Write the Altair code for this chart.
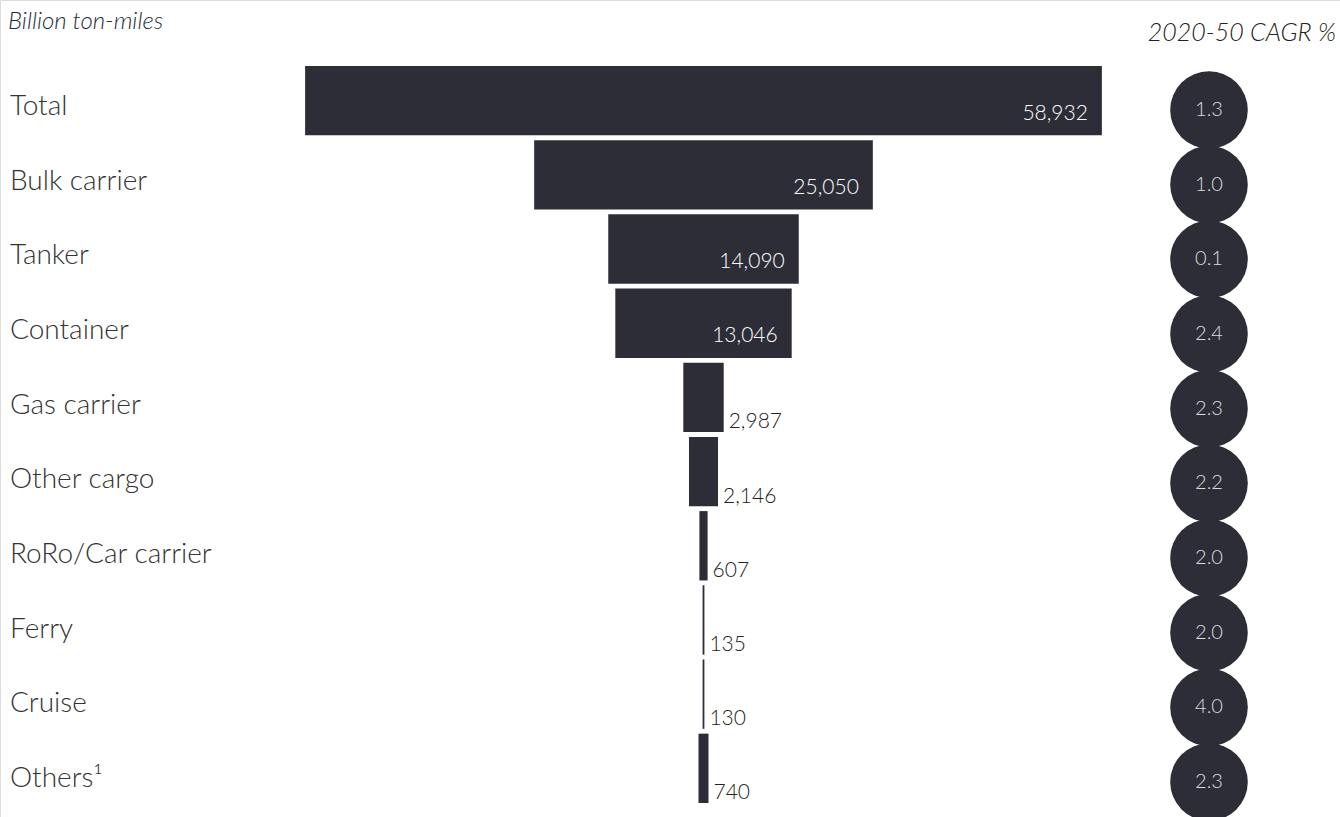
import altair as alt
import pandas as pd

categories = ["Total", "Bulk carrier", "Tanker", "Container", "Gas carrier",
              "Other cargo", "RoRo/Car carrier", "Ferry", "Cruise", "Others¹"]
values = [58932, 25050, 14090, 13046, 2987, 2146, 607, 135, 130, 740]
cagr = ["1.3", "1.0", "0.1", "2.4", "2.3", "2.2", "2.0", "2.0", "4.0", "2.3"]

df = pd.DataFrame({"cat": categories, "value": values, "cagr": cagr,
                   "idx": list(range(len(categories)))})
df["label"] = [f"{v:,}" for v in values]

DARK = "#2d2d37"
FONT = "Lato"
W = 300

base = alt.Chart(df).transform_calculate(
    half="datum.value/2", neg="-datum.value/2"
)

yenc = alt.Y("cat:N", sort=categories, axis=None,
             scale=alt.Scale(range=[66, 803], paddingInner=0.065, paddingOuter=0))
yrow = alt.Y("idx:Q", axis=None,
             scale=alt.Scale(domain=[0, 9], range=[110, 782], nice=False, zero=False))
xscale = alt.Scale(domain=[-52033, 47078], nice=False, zero=False)

bars = base.mark_bar(color=DARK).encode(
    x=alt.X("neg:Q", scale=xscale, axis=None),
    x2="half:Q",
    y=yenc,
)

inside = base.transform_filter("datum.value >= 10000").mark_text(
    align="right", dx=-14, dy=19, baseline="alphabetic", color="white",
    font=FONT, fontSize=21, fontWeight=W
).encode(x=alt.X("half:Q", scale=xscale, axis=None), y=yenc, text="label:N")

outside = base.transform_filter("datum.value < 10000").mark_text(
    align="left", dx=5, dy=31, baseline="alphabetic", color="#222222",
    font=FONT, fontSize=21, fontWeight=W
).encode(x=alt.X("half:Q", scale=xscale, axis=None), y=yenc, text="label:N")

bar_layer = alt.layer(bars, inside, outside)

cats = base.mark_text(
    align="left", baseline="middle", dy=-3, color="#333333",
    font=FONT, fontSize=28, fontWeight=W
).encode(x=alt.value(10), y=yrow, text="cat:N")

circles = base.mark_circle(size=6022, opacity=1, color=DARK).encode(
    x=alt.value(1209), y=yrow
)

ctext = base.mark_text(
    align="center", baseline="middle", color="#dcdcdc",
    font=FONT, fontSize=20, fontWeight=W
).encode(x=alt.value(1209), y=yrow, text="cagr:N")

row_layer = alt.layer(cats, circles, ctext)

hdr = pd.DataFrame({"t": ["Billion ton-miles"]})
hdr2 = pd.DataFrame({"t": ["2020-50 CAGR %"]})
title_left = alt.Chart(hdr).mark_text(
    align="left", baseline="middle", fontStyle="italic", color="#1f2e3a",
    font=FONT, fontSize=24, fontWeight=W
).encode(x=alt.value(8), y=alt.value(22), text="t:N")
title_right = alt.Chart(hdr2).mark_text(
    align="right", baseline="middle", fontStyle="italic", color="#222222",
    font=FONT, fontSize=25, fontWeight=W
).encode(x=alt.value(1336), y=alt.value(33), text="t:N")

chart = alt.layer(bar_layer, row_layer, title_left, title_right).resolve_scale(
    y="independent", x="independent"
).properties(
    width=1340, height=817, padding=0, autosize=alt.AutoSizeParams(type="none")
).configure_view(stroke=None).configure(background="white")

chart.save("out.html", embed_options={"renderer": "svg", "actions": False})
